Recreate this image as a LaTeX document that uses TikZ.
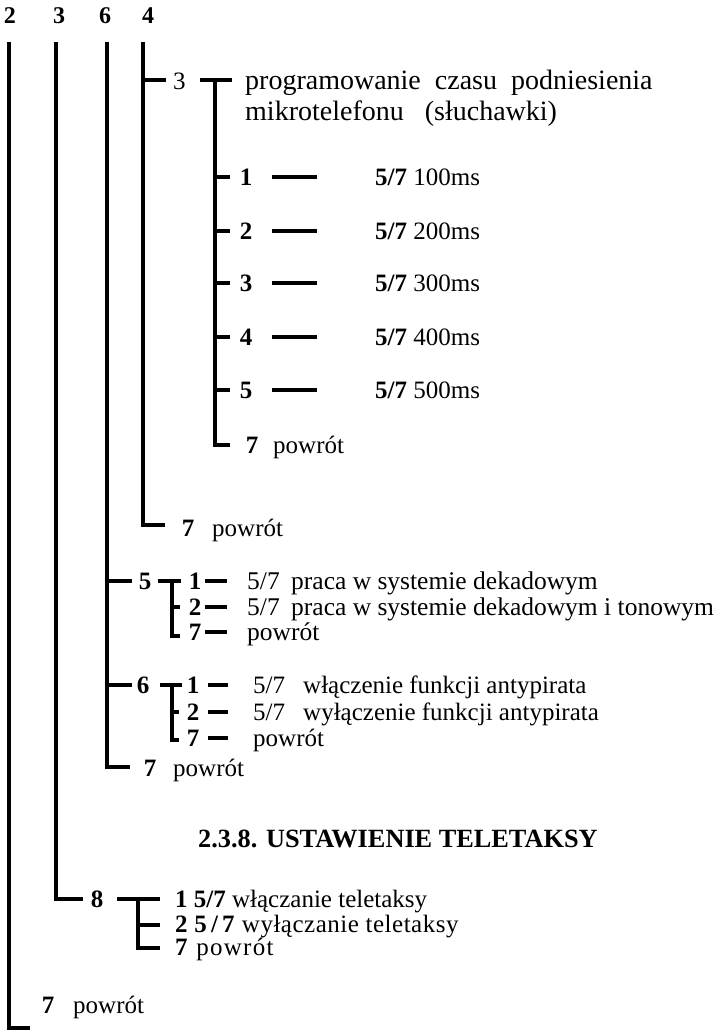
\documentclass[tikz,border=0pt]{standalone}
\usepackage{fontspec}
\setmainfont{Liberation Serif}
\begin{document}
\begin{tikzpicture}[x=1pt,y=-1pt,
  trunk/.style={line width=4pt},
  tick/.style={line width=4.5pt},
  txt/.style={anchor=base west,inner sep=0pt,font=\fontsize{25}{28}\selectfont},
  txtb/.style={anchor=base west,inner sep=0pt,font=\fontsize{25.5}{28}\selectfont},
  big/.style={anchor=base west,inner sep=0pt,font=\fontsize{28}{30}\selectfont},
  dig/.style={anchor=base,inner sep=0pt,font=\fontsize{25}{28}\selectfont\bfseries},
  top/.style={anchor=base,inner sep=0pt,font=\fontsize{24}{26}\selectfont\bfseries}]
\useasboundingbox (0,0) rectangle (718,1030);
% top labels
\node[top] (h2) at (10,24) {2};
\node[top] (h3) at (59,24) {3};
\node[top] (h6) at (105,24) {6};
\node[top] (h4) at (148,24) {4};
% trunk 2
\coordinate (a2) at (9,42); \coordinate (b2) at (9,1028); \coordinate (c2) at (30,1028);
\draw[trunk] (a2) -- (b2) -- (c2);
% trunk 3
\coordinate (a3) at (56,42); \coordinate (b3) at (56,899); \coordinate (c3) at (83,899);
\draw[trunk] (a3) -- (b3) -- (c3);
% trunk 6
\coordinate (a6) at (107,42); \coordinate (b6) at (107,767); \coordinate (c6) at (130,767);
\draw[trunk] (a6) -- (b6) -- (c6);
% trunk 4
\coordinate (a4) at (143,42); \coordinate (b4) at (143,525); \coordinate (c4) at (165,525);
\draw[trunk] (a4) -- (b4) -- (c4);
% --- menu 4-3
\coordinate (t43a) at (143,80); \coordinate (t43b) at (166,80);
\draw[tick] (t43a) -- (t43b);
\node[txt] (n43) at (173,90) {3};
\coordinate (m3l) at (200,80); \coordinate (m3r) at (232,80);
\coordinate (m3t) at (215,80); \coordinate (m3b) at (215,445); \coordinate (m3e) at (230,445);
\draw[tick] (m3l) -- (m3r);
\draw[trunk] (m3t) -- (m3b) -- (m3e);
\node[big] (ttl1) at (245,90) {programowanie\ \ czasu\ \ podniesienia};
\node[big] (ttl2) at (245,121) {mikrotelefonu\ \ \ (słuchawki)};
\foreach \i/\y in {1/177,2/231,3/283,4/337,5/390}{
  \coordinate (r\i a) at (215,\y); \coordinate (r\i b) at (230,\y);
  \draw[tick] (r\i a) -- (r\i b);
  \node[dig] (r\i d) at (246,\y+8) {\i};
  \coordinate (r\i s) at (272,\y); \coordinate (r\i e) at (317,\y);
  \draw[tick] (r\i s) -- (r\i e);
  \node[txt] (r\i t) at (375,\y+8) {\textbf{5/7} \i00ms};
}
\node[dig] (r7d) at (252,453) {7};
\node[txt] (r7t) at (273,453) {powrót};
% return of trunk 4
\node[dig] (p4d) at (188,536) {7};
\node[txt] (p4t) at (212,536) {powrót};
% --- menu 6-5
\coordinate (t65a) at (107,581); \coordinate (t65b) at (132,581);
\draw[tick] (t65a) -- (t65b);
\node[dig] (n65) at (145,589) {5};
\coordinate (m5l) at (158,581); \coordinate (m5r) at (181,581);
\coordinate (m5t) at (172,581); \coordinate (m5b) at (172,636); \coordinate (m5e) at (180,636);
\coordinate (m5m) at (172,607); \coordinate (m5n) at (180,607);
\draw[tick] (m5l) -- (m5r);
\draw[trunk] (m5t) -- (m5b) -- (m5e);
\draw[trunk] (m5m) -- (m5n);
\foreach \k/\y/\t in {1/581/{\makebox[44pt][l]{5/7}praca w systemie dekadowym},2/607/{\makebox[44pt][l]{5/7}praca w systemie dekadowym i tonowym},7/632/{powrót}}{
  \node[dig] (s5\k d) at (195,\y+8) {\k};
  \coordinate (s5\k a) at (205,\y); \coordinate (s5\k b) at (227,\y);
  \draw[tick] (s5\k a) -- (s5\k b);
  \node[txtb] (s5\k t) at (247,\y+8) {\t};
}
% --- menu 6-6
\coordinate (t66a) at (107,685); \coordinate (t66b) at (132,685);
\draw[tick] (t66a) -- (t66b);
\node[dig] (n66) at (143,693) {6};
\coordinate (m6l) at (160,685); \coordinate (m6r) at (182,685);
\coordinate (m6t) at (172,685); \coordinate (m6b) at (172,740); \coordinate (m6e) at (179,740);
\coordinate (m6m) at (172,712); \coordinate (m6n) at (179,712);
\draw[tick] (m6l) -- (m6r);
\draw[trunk] (m6t) -- (m6b) -- (m6e);
\draw[trunk] (m6m) -- (m6n);
\foreach \k/\y/\t in {1/685/{\makebox[50pt][l]{5/7}włączenie funkcji antypirata},2/712/{\makebox[50pt][l]{5/7}wyłączenie funkcji antypirata},7/738/{powrót}}{
  \node[dig] (s6\k d) at (193,\y+8) {\k};
  \coordinate (s6\k a) at (208,\y); \coordinate (s6\k b) at (228,\y);
  \draw[tick] (s6\k a) -- (s6\k b);
  \node[txt] (s6\k t) at (253,\y+8) {\t};
}
% return of trunk 6
\node[dig] (p6d) at (150,776) {7};
\node[txt] (p6t) at (173,776) {powrót};
% heading
\node[anchor=base west,inner sep=0pt,font=\fontsize{26.3}{28}\selectfont\bfseries] (hd) at (198,847) {2.3.8. USTAWIENIE TELETAKSY};
% --- menu 3-8
\node[dig] (n38) at (97,907) {8};
\coordinate (m8l) at (117,899); \coordinate (m8r) at (160,899);
\coordinate (m8t) at (138,899); \coordinate (m8b) at (138,948); \coordinate (m8e) at (160,948);
\coordinate (m8m) at (138,925); \coordinate (m8n) at (160,925);
\draw[tick] (m8l) -- (m8r);
\draw[trunk] (m8t) -- (m8b) -- (m8e);
\draw[tick] (m8m) -- (m8n);
\node[txt] (e81) at (175,907) {\textbf{1 5/7} włączanie\ teletaksy};
\node[txt] (e82) at (175,932) {\addfontfeature{LetterSpace=2}\textbf{2 5\,/\,7} wyłączanie teletaksy};
\node[txt] (e87) at (175,955) {\addfontfeature{LetterSpace=5}\textbf{7} powrót};
% return of trunk 2
\node[dig] (p2d) at (48,1013) {7};
\node[txt] (p2t) at (73,1013) {powrót};
\end{tikzpicture}
\end{document}
